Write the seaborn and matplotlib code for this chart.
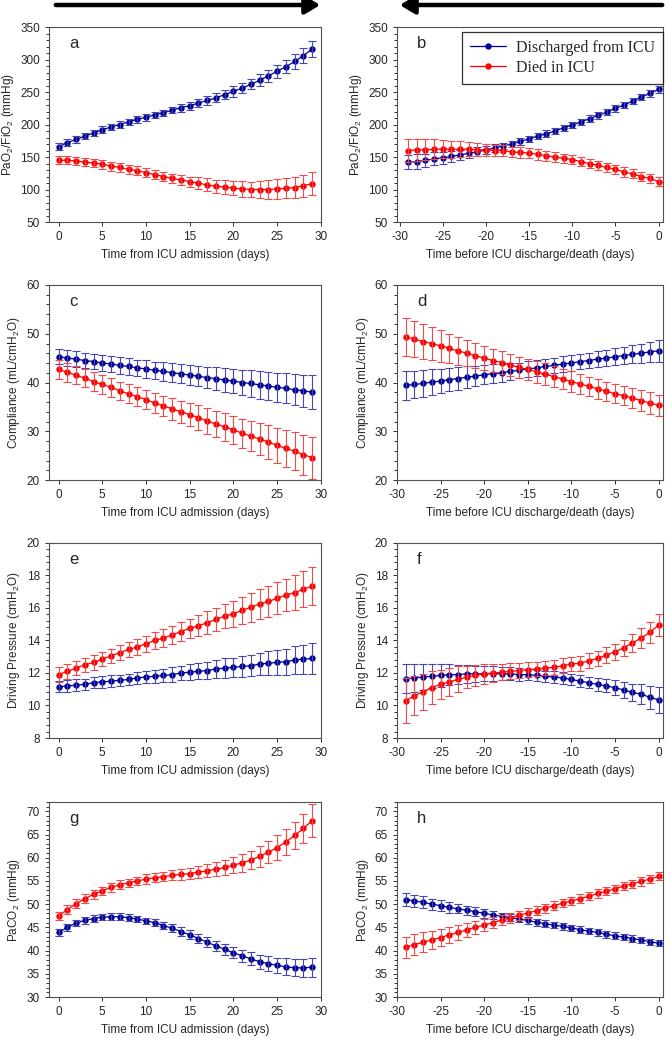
import matplotlib
matplotlib.use("Agg")
import matplotlib.pyplot as plt
import numpy as np
import pandas as pd
import seaborn as sns
from matplotlib.ticker import AutoMinorLocator, MultipleLocator, NullLocator

sns.set_style("ticks")
plt.rcParams["font.family"] = ["Liberation Sans", "DejaVu Sans"]
plt.rcParams["mathtext.default"] = "regular"
plt.rcParams["axes.unicode_minus"] = False

days_from = np.arange(0, 30)
days_before = np.arange(-29, 1)

# a: PaO2/FiO2 from admission
a_dis = [166, 172, 177, 182, 187, 192, 196, 200, 204, 208, 211, 215, 218, 222, 226,
         229, 233, 237, 241, 246, 251, 256, 262, 268, 275, 282, 289, 297, 306, 316]
a_dis_err = [5, 5, 5, 5, 5, 5, 5, 5, 5, 5, 5, 5, 5, 5, 6, 6, 6, 7, 7, 7, 8, 8, 8, 9, 9, 10, 10, 11, 11, 12]
a_died = [145, 145, 144, 142, 141, 139, 136, 134, 131, 129, 126, 123, 120, 117, 115,
          112, 110, 107, 105, 104, 102, 101, 100, 100, 100, 101, 102, 103, 106, 109]
a_died_err = [6, 6, 6, 6, 6, 7, 7, 7, 7, 7, 7, 7, 7, 7, 8, 8, 9, 10, 10, 11, 11, 12, 12, 13, 14, 15, 15, 16, 17, 18]

# b: PaO2/FiO2 before discharge/death
b_dis = [142, 143, 145, 147, 149, 151, 153, 156, 158, 161, 164, 167, 170, 174, 178,
         182, 186, 190, 195, 199, 204, 209, 214, 219, 225, 230, 236, 242, 248, 254]
b_dis_err = [11, 11, 10, 10, 9, 9, 8, 7, 7, 6, 6, 5, 5, 5, 5, 5, 5, 5, 5, 5, 5, 5, 5, 5, 5, 5, 5, 5, 5, 5]
b_died = [160, 161, 161, 162, 162, 162, 162, 162, 161, 161, 160, 160, 158, 157, 156,
          154, 152, 150, 148, 146, 143, 140, 137, 134, 131, 127, 124, 120, 117, 112]
b_died_err = [18, 17, 16, 15, 14, 13, 12, 11, 10, 9, 9, 8, 8, 8, 8, 8, 8, 8, 7, 7, 7, 7, 7, 7, 7, 7, 7, 7, 7, 7]

# c: compliance from admission
c_dis = [45.3, 45.0, 44.8, 44.5, 44.3, 44.0, 43.8, 43.5, 43.3, 43.0, 42.8, 42.5, 42.3, 42.0, 41.8,
         41.5, 41.3, 41.0, 40.8, 40.5, 40.3, 40.0, 39.8, 39.5, 39.3, 39.0, 38.8, 38.5, 38.3, 38.0]
c_dis_err = [1.6, 1.6, 1.6, 1.6, 1.6, 1.6, 1.6, 1.7, 1.7, 1.7, 1.8, 1.8, 1.9, 1.9, 2.0,
             2.0, 2.1, 2.2, 2.3, 2.4, 2.5, 2.6, 2.7, 2.8, 2.9, 3.0, 3.1, 3.2, 3.3, 3.5]
c_died = [42.7, 42.1, 41.5, 40.9, 40.2, 39.6, 39.0, 38.3, 37.7, 37.1, 36.5, 35.8, 35.2, 34.6, 34.0,
          33.4, 32.8, 32.1, 31.5, 30.9, 30.3, 29.6, 29.0, 28.4, 27.8, 27.1, 26.5, 25.9, 25.2, 24.6]
c_died_err = [1.9, 1.9, 1.9, 1.9, 1.9, 1.9, 1.9, 1.9, 2.0, 2.0, 2.0, 2.1, 2.1, 2.2, 2.3,
              2.4, 2.5, 2.6, 2.7, 2.8, 2.9, 3.0, 3.1, 3.3, 3.5, 3.6, 3.8, 3.9, 4.1, 4.3]

# d: compliance before discharge/death
d_dis = [39.4, 39.6, 39.8, 40.1, 40.3, 40.6, 40.8, 41.1, 41.3, 41.6, 41.8, 42.0, 42.3, 42.5, 42.8,
         43.0, 43.3, 43.5, 43.8, 44.0, 44.3, 44.5, 44.8, 45.0, 45.3, 45.5, 45.8, 46.0, 46.3, 46.5]
d_dis_err = [2.9, 2.8, 2.7, 2.6, 2.5, 2.4, 2.3, 2.2, 2.1, 2.0, 1.9, 1.8, 1.7, 1.6, 1.6,
             1.6, 1.6, 1.6, 1.6, 1.6, 1.6, 1.6, 1.7, 1.7, 1.8, 1.8, 1.9, 2.0, 2.1, 2.2]
d_died = [49.4, 48.9, 48.4, 48.0, 47.5, 47.0, 46.5, 46.0, 45.5, 45.0, 44.5, 44.1, 43.6, 43.1, 42.7,
          42.2, 41.7, 41.2, 40.7, 40.2, 39.7, 39.2, 38.7, 38.2, 37.7, 37.3, 36.8, 36.3, 35.8, 35.3]
d_died_err = [3.9, 3.7, 3.5, 3.4, 3.2, 3.0, 2.9, 2.7, 2.6, 2.5, 2.4, 2.3, 2.3, 2.2, 2.2,
              2.2, 2.2, 2.1, 2.1, 2.1, 2.0, 2.0, 2.0, 2.0, 2.0, 2.0, 2.0, 2.1, 2.2, 2.2]

# e: driving pressure from admission
e_dis = [11.15, 11.2, 11.25, 11.3, 11.4, 11.45, 11.5, 11.55, 11.6, 11.7, 11.75, 11.8, 11.85, 11.9, 12.0,
         12.05, 12.1, 12.15, 12.25, 12.3, 12.35, 12.4, 12.45, 12.55, 12.6, 12.65, 12.7, 12.8, 12.85, 12.9]
e_dis_err = [0.35, 0.35, 0.35, 0.35, 0.35, 0.35, 0.35, 0.35, 0.35, 0.35, 0.35, 0.4, 0.4, 0.45, 0.45,
             0.5, 0.5, 0.55, 0.55, 0.6, 0.6, 0.65, 0.65, 0.7, 0.75, 0.75, 0.8, 0.85, 0.9, 0.95]
e_died = [11.9, 12.1, 12.3, 12.5, 12.65, 12.85, 13.05, 13.25, 13.45, 13.6, 13.8, 14.0, 14.15, 14.35, 14.55,
          14.75, 14.9, 15.1, 15.3, 15.5, 15.65, 15.85, 16.05, 16.25, 16.4, 16.6, 16.8, 16.95, 17.15, 17.35]
e_died_err = [0.45, 0.45, 0.45, 0.45, 0.45, 0.45, 0.45, 0.45, 0.45, 0.5, 0.5, 0.5, 0.55, 0.55, 0.6,
              0.6, 0.65, 0.7, 0.7, 0.75, 0.8, 0.85, 0.9, 0.9, 0.95, 1.0, 1.0, 1.05, 1.1, 1.15]

# f: driving pressure before discharge/death
f_dis = [11.65, 11.7, 11.75, 11.8, 11.85, 11.9, 11.9, 11.95, 11.95, 11.95, 11.95, 11.95, 11.95, 11.9, 11.9,
         11.85, 11.8, 11.75, 11.7, 11.6, 11.5, 11.4, 11.3, 11.2, 11.1, 10.95, 10.8, 10.7, 10.5, 10.35]
f_dis_err = [0.9, 0.85, 0.8, 0.75, 0.7, 0.65, 0.6, 0.55, 0.5, 0.45, 0.45, 0.4, 0.4, 0.4, 0.35,
             0.35, 0.35, 0.35, 0.35, 0.35, 0.35, 0.35, 0.4, 0.4, 0.45, 0.5, 0.55, 0.6, 0.7, 0.8]
f_died = [10.3, 10.6, 10.85, 11.1, 11.3, 11.45, 11.6, 11.75, 11.85, 11.95, 12.0, 12.05, 12.1, 12.15, 12.2,
          12.25, 12.3, 12.35, 12.45, 12.55, 12.6, 12.75, 12.9, 13.1, 13.3, 13.55, 13.85, 14.15, 14.5, 14.95]
f_died_err = [1.4, 1.2, 1.1, 1.0, 0.9, 0.85, 0.8, 0.7, 0.65, 0.6, 0.55, 0.5, 0.5, 0.45, 0.45,
              0.45, 0.45, 0.45, 0.45, 0.45, 0.45, 0.45, 0.45, 0.5, 0.5, 0.5, 0.55, 0.6, 0.65, 0.7]

# g: PaCO2 from admission
g_dis = [43.9, 45.0, 45.9, 46.5, 46.9, 47.2, 47.3, 47.3, 47.1, 46.8, 46.4, 46.0, 45.4, 44.8, 44.1,
         43.4, 42.6, 41.8, 41.0, 40.3, 39.5, 38.9, 38.2, 37.6, 37.2, 36.8, 36.5, 36.3, 36.3, 36.4]
g_dis_err = [0.8, 0.8, 0.7, 0.7, 0.7, 0.7, 0.7, 0.7, 0.7, 0.7, 0.7, 0.8, 0.8, 0.9, 0.9,
             1.0, 1.0, 1.1, 1.1, 1.2, 1.2, 1.3, 1.4, 1.5, 1.6, 1.7, 1.8, 1.8, 1.9, 2.1]
g_died = [47.5, 48.8, 50.1, 51.2, 52.1, 52.9, 53.6, 54.2, 54.6, 55.0, 55.4, 55.7, 55.9, 56.2, 56.4,
          56.6, 56.9, 57.2, 57.5, 57.9, 58.4, 58.9, 59.5, 60.3, 61.2, 62.2, 63.4, 64.8, 66.3, 68.0]
g_died_err = [0.9, 1.0, 1.0, 0.9, 0.9, 0.9, 0.9, 0.9, 0.9, 0.9, 1.0, 1.0, 1.0, 1.1, 1.1,
              1.2, 1.3, 1.4, 1.5, 1.6, 1.7, 1.9, 2.0, 2.2, 2.4, 2.6, 2.8, 3.0, 3.2, 3.5]

# h: PaCO2 before discharge/death
h_dis = [51.0, 50.7, 50.4, 50.0, 49.7, 49.3, 49.0, 48.7, 48.4, 48.0, 47.7, 47.4, 47.1, 46.8, 46.5,
         46.1, 45.8, 45.5, 45.2, 44.9, 44.5, 44.2, 43.9, 43.5, 43.2, 42.9, 42.6, 42.3, 41.9, 41.6]
h_dis_err = [1.4, 1.3, 1.3, 1.2, 1.2, 1.1, 1.0, 1.0, 0.9, 0.9, 0.8, 0.8, 0.8, 0.7, 0.7,
             0.7, 0.7, 0.7, 0.7, 0.7, 0.7, 0.7, 0.7, 0.7, 0.7, 0.7, 0.7, 0.7, 0.7, 0.7]
h_died = [40.7, 41.3, 41.8, 42.3, 42.8, 43.4, 43.9, 44.5, 45.0, 45.5, 46.0, 46.6, 47.1, 47.6, 48.1,
          48.6, 49.1, 49.7, 50.2, 50.7, 51.2, 51.7, 52.3, 52.8, 53.3, 53.9, 54.4, 54.9, 55.4, 56.0]
h_died_err = [2.3, 2.2, 2.1, 1.9, 1.8, 1.7, 1.6, 1.5, 1.4, 1.3, 1.2, 1.1, 1.1, 1.0, 1.0,
              1.0, 0.9, 0.9, 0.9, 0.9, 0.9, 0.9, 0.9, 0.9, 0.9, 0.9, 0.9, 0.9, 0.9, 0.9]

ylabels = ["PaO$_2$/FiO$_2$ (mmHg)", "Compliance (mL/cmH$_2$O)",
           "Driving Pressure (cmH$_2$O)", "PaCO$_2$ (mmHg)"]
xlabel_from = "Time from ICU admission (days)"
xlabel_before = "Time before ICU discharge/death (days)"
labels = ["Discharged from ICU", "Died in ICU"]

panels = [
    ("a", days_from, a_dis, a_dis_err, a_died, a_died_err),
    ("b", days_before, b_dis, b_dis_err, b_died, b_died_err),
    ("c", days_from, c_dis, c_dis_err, c_died, c_died_err),
    ("d", days_before, d_dis, d_dis_err, d_died, d_died_err),
    ("e", days_from, e_dis, e_dis_err, e_died, e_died_err),
    ("f", days_before, f_dis, f_dis_err, f_died, f_died_err),
    ("g", days_from, g_dis, g_dis_err, g_died, g_died_err),
    ("h", days_before, h_dis, h_dis_err, h_died, h_died_err),
]
ylims = [(50, 350), (20, 60), (8, 20), (30, 72)]
ysteps = [50, 10, 2, 5]

blue, blue_err = "#000099", "#4646b0"
red, red_err = "#ff0000", "#f24a4a"


def long_frame(x, mean, err):
    mean = np.asarray(mean, dtype=float)
    err = np.asarray(err, dtype=float)
    return pd.DataFrame({
        "day": np.concatenate([x, x, x]),
        "value": np.concatenate([mean, mean - err, mean + err]),
    })


def span(v):
    return (v.min(), v.max())


fig = plt.figure(figsize=(6.7, 10.39), dpi=100)
lefts = [0.073, 0.5925]
widths = [0.406, 0.397]
bottoms = [0.7863, 0.538, 0.2897, 0.0404]
height = 0.1877

for i, (letter, x, dis, dis_err, died, died_err) in enumerate(panels):
    row, col = divmod(i, 2)
    ax = fig.add_axes([lefts[col], bottoms[row], widths[col], height])
    for mean, err, c, ec, lab in [(dis, dis_err, blue, blue_err, labels[0]),
                                  (died, died_err, red, red_err, labels[1])]:
        sns.lineplot(data=long_frame(x, mean, err), x="day", y="value", ax=ax,
                     color=c, marker="o", markersize=4.6, markeredgewidth=0,
                     linewidth=0.9, err_style="bars", errorbar=span,
                     err_kws={"capsize": 3, "elinewidth": 0.8, "capthick": 0.8, "ecolor": ec},
                     label=lab, legend=False)
    ax.set_ylim(*ylims[row])
    ax.minorticks_on()
    ax.yaxis.set_major_locator(MultipleLocator(ysteps[row]))
    ax.yaxis.set_minor_locator(AutoMinorLocator(5))
    ax.xaxis.set_major_locator(MultipleLocator(5))
    ax.xaxis.set_minor_locator(NullLocator())
    if col == 0:
        ax.set_xlim(-1.1, 30)
        ax.set_xlabel(xlabel_from, fontsize=8.5, labelpad=4)
    else:
        ax.set_xlim(-30.3 if row == 0 else -30, 0.5)
        ax.set_xlabel(xlabel_before, fontsize=8.5, labelpad=4)
    ax.set_ylabel(ylabels[row], fontsize=8.5, labelpad=3)
    ax.tick_params(axis="both", which="major", labelsize=8.5, length=3, width=0.7,
                   direction="out", color="#303030")
    ax.tick_params(axis="y", which="minor", left=True, length=2.5, width=0.7,
                   direction="out", color="#303030")
    ax.tick_params(which="both", top=False, right=False)
    for s in ax.spines.values():
        s.set_color("#505050")
        s.set_linewidth(0.8)
    ax.text(0.075, 0.915, letter, transform=ax.transAxes, fontsize=12,
            ha="left", va="center")
    if letter == "b":
        leg = ax.legend(loc="upper right", bbox_to_anchor=(1.0, 0.975),
                        prop={"family": "Liberation Serif", "size": 11.5},
                        frameon=True, fancybox=False, edgecolor="black",
                        borderaxespad=0, handlelength=2.3, handletextpad=0.6,
                        borderpad=0.5, labelspacing=0.25)
        leg.get_frame().set_linewidth(0.9)

# direction arrows above the top panels
for x0, x1 in [(53, 323), (665, 397)]:
    fig.add_artist(matplotlib.patches.FancyArrowPatch(
        (x0 / 670, 1 - 5 / 1039), (x1 / 670, 1 - 5 / 1039), transform=fig.transFigure,
        arrowstyle="-|>,head_length=5,head_width=3", linewidth=3.2, color="black",
        mutation_scale=1.8))

fig.savefig("out.png", dpi=100)
